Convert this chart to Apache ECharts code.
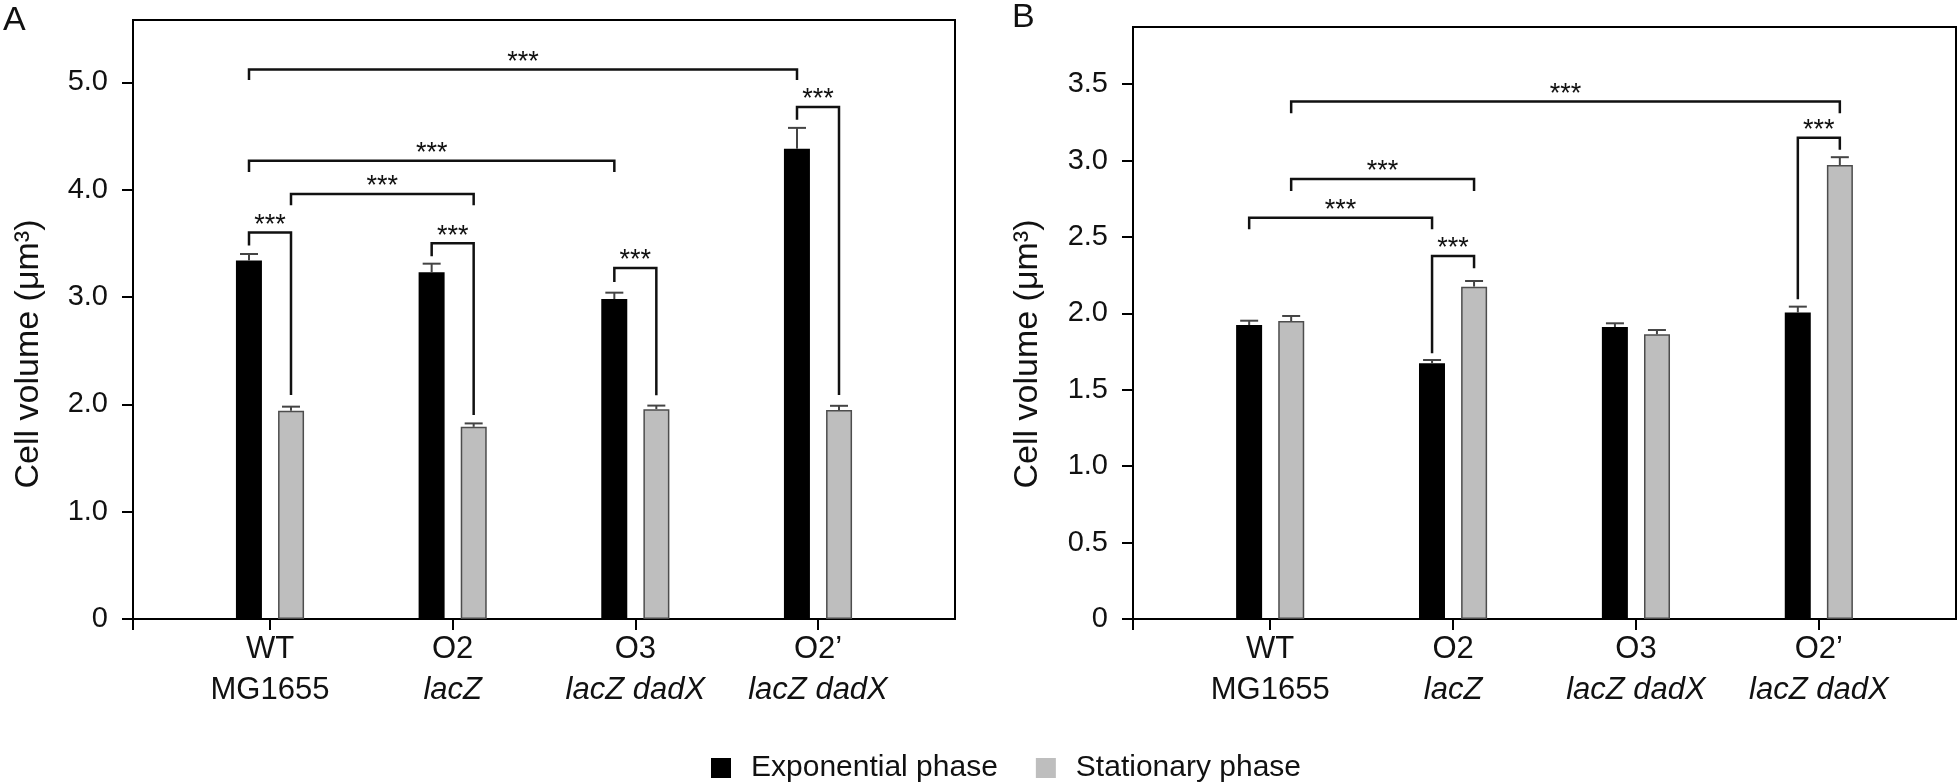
<!DOCTYPE html>
<html>
<head>
<meta charset="utf-8">
<title>Cell volume</title>
<script src="https://cdn.jsdelivr.net/npm/echarts@6/dist/echarts.min.js"></script>
<style>
  html, body { margin: 0; padding: 0; background: #fff; }
  #chart { width: 1960px; height: 784px; }
</style>
</head>
<body>
<div id="chart"></div>
<script>
/*
 * 细胞体积 (A: 指数期 / 稳定期, B)
 */

var categories = ["WT", "O2", "O3", "O2\u2019"];
var strains = ["MG1655", "lacZ", "lacZ dadX", "lacZ dadX"];
var seriesNames = ["Exponential phase", "Stationary phase"];

// A
var expA = [3.34, 3.23, 2.98, 4.38];
var expAErr = [0.06, 0.08, 0.06, 0.195];
var statA = [1.94, 1.79, 1.955, 1.946];
var statAErr = [0.038, 0.032, 0.033, 0.04];
var ticksA = [0, 1, 2, 3, 4, 5];

// B
var expB = [1.924, 1.673, 1.911, 2.005];
var expBErr = [0.028, 0.022, 0.024, 0.039];
var statB = [1.95, 2.175, 1.863, 2.971];
var statBErr = [0.033, 0.037, 0.028, 0.051];
var ticksB = [0, 0.5, 1, 1.5, 2, 2.5, 3, 3.5];

// 显著性标记: [组1, 侧1(-1指数/1稳定), 组2, 侧2, 横线高度, 左端, 右端]
var bracketsA = [
  [0, -1, 3, -1, 5.12, 5.02, 5.02],
  [0, -1, 2, -1, 4.27, 4.165, 4.165],
  [0, 1, 1, 1, 3.96, 3.855, 3.855],
  [0, -1, 0, 1, 3.6, 3.48, 2.086],
  [1, -1, 1, 1, 3.5, 3.38, 1.9],
  [2, -1, 2, 1, 3.27, 3.14, 2.085],
  [3, -1, 3, 1, 4.77, 4.65, 2.086]
];
var bracketsB = [
  [0, 1, 3, 1, 3.386, 3.31, 3.31],
  [0, 1, 1, 1, 2.88, 2.8, 2.8],
  [0, -1, 1, -1, 2.626, 2.55, 2.55],
  [1, -1, 1, 1, 2.376, 1.739, 2.295],
  [3, -1, 3, 1, 3.15, 2.092, 3.07]
];

var FONT = "Liberation Sans, Arial, sans-serif";
var BAR_OFFSET = 21;

function pairs(values) {
  return values.map(function (v, i) {
    return [i, v];
  });
}

function errData(values, errs, side) {
  return values.map(function (v, i) {
    return [i, v, errs[i], side];
  });
}

function renderErr(params, api) {
  var cat = api.value(0);
  var v = api.value(1);
  var e = api.value(2);
  var side = api.value(3);
  var base = api.coord([cat, v]);
  var top = api.coord([cat, v + e]);
  var x = base[0] + side * BAR_OFFSET;
  var st = { stroke: "#444", lineWidth: 2 };
  return {
    type: "group",
    children: [
      { type: "line", shape: { x1: x, y1: base[1], x2: x, y2: top[1] }, style: st },
      { type: "line", shape: { x1: x - 9, y1: top[1], x2: x + 9, y2: top[1] }, style: st }
    ]
  };
}

function renderBracket(params, api) {
  var c1 = api.value(0), s1 = api.value(1);
  var c2 = api.value(2), s2 = api.value(3);
  var yl = api.value(4), y1 = api.value(5), y2 = api.value(6);
  var p1 = api.coord([c1, yl]);
  var p2 = api.coord([c2, yl]);
  var x1 = p1[0] + s1 * BAR_OFFSET;
  var x2 = p2[0] + s2 * BAR_OFFSET;
  var e1 = api.coord([c1, y1])[1];
  var e2 = api.coord([c2, y2])[1];
  return {
    type: "group",
    children: [
      {
        type: "polyline",
        shape: { points: [[x1, e1], [x1, p1[1]], [x2, p1[1]], [x2, e2]] },
        style: { stroke: "#111", lineWidth: 2.5, fill: null }
      },
      {
        type: "text",
        x: (x1 + x2) / 2,
        y: p1[1] - 7,
        style: {
          text: "***",
          font: "27px " + FONT,
          fill: "#111",
          align: "center",
          verticalAlign: "middle",
          textAlign: "center",
          textVerticalAlign: "middle"
        }
      }
    ]
  };
}

function xAxisCfg(gridIndex) {
  return {
    type: "value",
    gridIndex: gridIndex,
    min: -0.75,
    max: 3.75,
    axisLine: { show: true, onZero: false, lineStyle: { color: "#000", width: 2 } },
    axisTick: { show: true, length: 11, lineStyle: { color: "#000", width: 2 }, customValues: [-0.75, 0, 1, 2, 3] },
    splitLine: { show: false },
    axisLabel: {
      customValues: [0, 1, 2, 3],
      margin: 10,
      formatter: function (v) {
        var i = Math.round(v);
        var s = /^[a-z]/.test(strains[i]) ? "i" : "a";
        return "{a|" + categories[i] + "}\n{" + s + "|" + strains[i] + "}";
      },
      rich: {
        a: { fontSize: 31, lineHeight: 41, color: "#111", fontFamily: FONT },
        i: { fontSize: 31, lineHeight: 41, color: "#111", fontFamily: FONT, fontStyle: "italic" }
      }
    }
  };
}

function yAxisCfg(gridIndex, max, ticks) {
  return {
    type: "value",
    gridIndex: gridIndex,
    min: 0,
    max: max,
    axisLine: { show: true, onZero: false, lineStyle: { color: "#000", width: 2 } },
    axisTick: { show: true, length: 11, lineStyle: { color: "#000", width: 2 }, customValues: ticks },
    splitLine: { show: false },
    axisLabel: {
      customValues: ticks,
      margin: 25,
      fontSize: 29,
      color: "#111",
      fontFamily: FONT,
      formatter: function (v) {
        return v === 0 ? "0" : v.toFixed(1);
      }
    }
  };
}

function barSeries(name, idx, values) {
  var stat = name === seriesNames[1];
  return {
    name: name,
    type: "bar",
    xAxisIndex: idx,
    yAxisIndex: idx,
    barWidth: 26,
    barGap: "62%",
    itemStyle: stat
      ? { color: "#bebebe", borderColor: "#4d4d4d", borderWidth: 1.5 }
      : { color: "#000" },
    data: pairs(values)
  };
}

function customSeries(idx, data, render) {
  return {
    type: "custom",
    xAxisIndex: idx,
    yAxisIndex: idx,
    encode: { x: 0, y: render === renderErr ? 1 : 4 },
    renderItem: render,
    z: 5,
    silent: true,
    data: data
  };
}

var frame = { show: true, borderColor: "#000", borderWidth: 2, outerBoundsMode: "none", containLabel: false };

var option = {
  animation: false,
  backgroundColor: "#fff",
  grid: [
    Object.assign({ left: 133, top: 20, width: 822, height: 599 }, frame),
    Object.assign({ left: 1133, top: 27, width: 823, height: 592 }, frame)
  ],
  xAxis: [xAxisCfg(0), xAxisCfg(1)],
  yAxis: [yAxisCfg(0, 5.58, ticksA), yAxisCfg(1, 3.874, ticksB)],
  legend: {
    left: 706,
    top: 748,
    icon: "rect",
    itemWidth: 20,
    itemHeight: 20,
    itemGap: 38,
    textStyle: { fontSize: 30, lineHeight: 30, color: "#111", fontFamily: FONT, padding: [0, 0, 0, 15] },
    data: [
      { name: seriesNames[0] },
      { name: seriesNames[1], itemStyle: { borderWidth: 0 } }
    ]
  },
  graphic: [
    { type: "text", left: 3, top: 4, style: { text: "A", font: "34px " + FONT, fill: "#111" } },
    { type: "text", left: 1012, top: 1, style: { text: "B", font: "34px " + FONT, fill: "#111" } },
    {
      type: "text", x: 29, y: 354, rotation: Math.PI / 2,
      style: { text: "Cell volume (\u03bcm\u00b3)", font: "34px " + FONT, fill: "#111", align: "center", verticalAlign: "middle", textAlign: "center", textVerticalAlign: "middle" }
    },
    {
      type: "text", x: 1028, y: 354, rotation: Math.PI / 2,
      style: { text: "Cell volume (\u03bcm\u00b3)", font: "34px " + FONT, fill: "#111", align: "center", verticalAlign: "middle", textAlign: "center", textVerticalAlign: "middle" }
    }
  ],
  series: [
    barSeries(seriesNames[0], 0, expA),
    barSeries(seriesNames[1], 0, statA),
    customSeries(0, errData(expA, expAErr, -1).concat(errData(statA, statAErr, 1)), renderErr),
    customSeries(0, bracketsA, renderBracket),
    barSeries(seriesNames[0], 1, expB),
    barSeries(seriesNames[1], 1, statB),
    customSeries(1, errData(expB, expBErr, -1).concat(errData(statB, statBErr, 1)), renderErr),
    customSeries(1, bracketsB, renderBracket)
  ]
};

var myChart = echarts.init(document.getElementById("chart"));
myChart.setOption(option);
</script>
</body>
</html>
